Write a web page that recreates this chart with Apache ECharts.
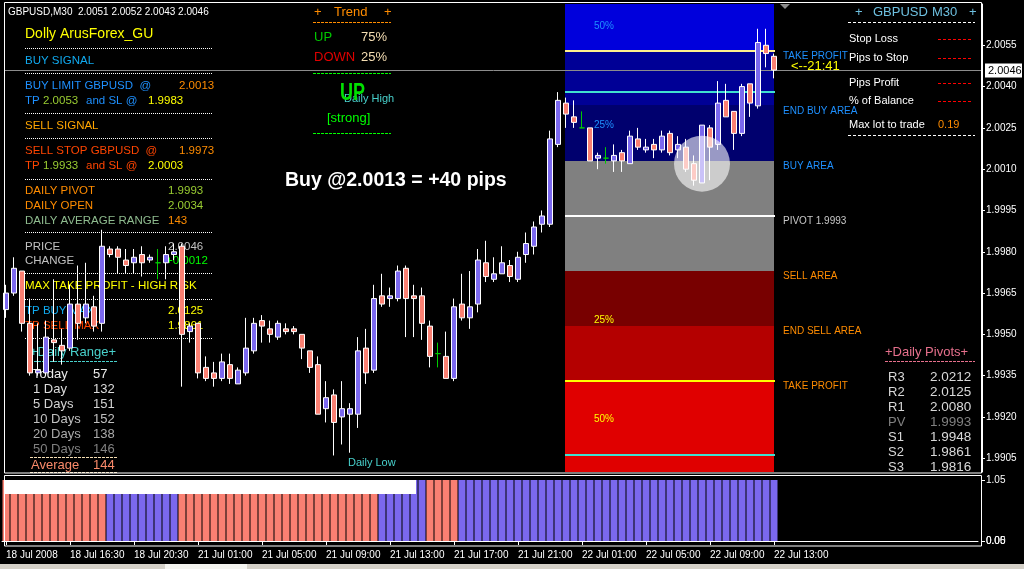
<!DOCTYPE html>
<html><head><meta charset="utf-8">
<script src="https://cdn.jsdelivr.net/npm/echarts@6/dist/echarts.min.js"></script>
<style>html,body{margin:0;padding:0;background:#000}#c{width:1024px;height:569px}</style>
</head><body><div id="c"></div><script>
// ---------------- DATA ----------------
const timeTicks = ['18 Jul 2008','18 Jul 16:30','18 Jul 20:30','21 Jul 01:00','21 Jul 05:00','21 Jul 09:00','21 Jul 13:00','21 Jul 17:00','21 Jul 21:00','22 Jul 01:00','22 Jul 05:00','22 Jul 09:00','22 Jul 13:00'];
const priceTicks = ['1.9905','1.9920','1.9935','1.9950','1.9965','1.9980','1.9995','2.0010','2.0025','2.0040','2.0055'];
const slotCount = 122;
const openP = [1.9959,1.9965,1.9973,1.9954,1.9936,1.9936,1.9948,1.9946,1.9945,1.9961,1.9956,1.9960,1.9954,1.9981,1.9981,1.9977,1.9976,1.9979,1.9977,1.9976,1.9976,1.9979,1.9982,1.9951,1.9954,1.9938,1.9936,1.9934,1.9939,1.9932,1.9936,1.9944,1.9955,1.9952,1.9949,1.9952,1.9952,1.9950,1.9944,1.9939,1.9923,1.9928,1.9920,1.9921,1.9921,1.9945,1.9937,1.9964,1.9963,1.9963,1.9974,1.9964,1.9964,1.9953,1.9943,1.9942,1.9934,1.9961,1.9956,1.9961,1.9976,1.9970,1.9972,1.9975,1.9970,1.9979,1.9982,1.9990,1.9990,2.0019,2.0034,2.0029,2.0025,2.0025,2.0014,2.0014,2.0013,2.0016,2.0012,2.0021,2.0017,2.0019,2.0017,2.0023,2.0017,2.0018,2.0012,2.0005,2.0025,2.0019,2.0035,2.0031,2.0023,2.0041,2.0033,2.0055,2.0051];
const closeP = [1.9965,1.9974,1.9954,1.9936,1.9937,1.9949,1.9947,1.9944,1.9961,1.9954,1.9961,1.9953,1.9982,1.9979,1.9978,1.9975,1.9978,1.9976,1.9978,1.9976,1.9979,1.9980,1.9950,1.9953,1.9936,1.9934,1.9934,1.9940,1.9934,1.9937,1.9945,1.9954,1.9953,1.9950,1.9954,1.9951,1.9951,1.9945,1.9938,1.9921,1.9927,1.9918,1.9923,1.9923,1.9944,1.9936,1.9963,1.9961,1.9964,1.9973,1.9963,1.9963,1.9954,1.9942,1.9943,1.9934,1.9960,1.9956,1.9960,1.9977,1.9971,1.9972,1.9976,1.9971,1.9978,1.9983,1.9989,1.9993,2.0021,2.0035,2.0030,2.0027,2.0025,2.0013,2.0015,2.0014,2.0015,2.0013,2.0022,2.0018,2.0018,2.0017,2.0022,2.0016,2.0019,2.0010,2.0006,2.0026,2.0018,2.0034,2.0029,2.0023,2.0040,2.0034,2.0056,2.0052,2.0046];
const lowP = [1.9956,1.9964,1.9951,1.9935,1.9935,1.9935,1.9940,1.9939,1.9944,1.9948,1.9954,1.9951,1.9951,1.9978,1.9972,1.9972,1.9972,1.9971,1.9976,1.9970,1.9970,1.9977,1.9931,1.9947,1.9934,1.9933,1.9931,1.9933,1.9932,1.9932,1.9935,1.9943,1.9947,1.9947,1.9948,1.9950,1.9950,1.9941,1.9936,1.9921,1.9918,1.9906,1.9910,1.9907,1.9916,1.9932,1.9936,1.9960,1.9960,1.9962,1.9949,1.9949,1.9948,1.9938,1.9938,1.9934,1.9933,1.9955,1.9952,1.9958,1.9969,1.9969,1.9972,1.9969,1.9969,1.9976,1.9979,1.9987,1.9989,2.0018,2.0025,2.0025,2.0025,2.0013,2.0010,2.0012,2.0009,2.0009,2.0012,2.0017,2.0016,2.0014,2.0016,2.0015,2.0014,2.0009,2.0004,2.0005,2.0006,2.0017,2.0029,2.0017,2.0022,2.0029,2.0032,2.0047,2.0043];
const highP = [1.9968,1.9978,1.9973,1.9963,1.9954,1.9955,1.9970,1.9952,1.9968,1.9975,1.9976,1.9964,1.9988,1.9982,1.9982,1.9981,1.9981,1.9982,1.9979,1.9981,1.9982,1.9983,1.9983,1.9954,1.9954,1.9942,1.9940,1.9943,1.9943,1.9938,1.9956,1.9956,1.9957,1.9955,1.9955,1.9954,1.9953,1.9950,1.9944,1.9942,1.9933,1.9930,1.9933,1.9925,1.9949,1.9952,1.9968,1.9972,1.9967,1.9975,1.9975,1.9968,1.9967,1.9955,1.9947,1.9951,1.9963,1.9972,1.9973,1.9981,1.9984,1.9978,1.9982,1.9977,1.9980,1.9987,1.9991,1.9995,2.0024,2.0038,2.0036,2.0035,2.0031,2.0025,2.0016,2.0018,2.0019,2.0017,2.0024,2.0025,2.0021,2.0021,2.0024,2.0024,2.0022,2.0021,2.0015,2.0026,2.0026,2.0042,2.0041,2.0031,2.0041,2.0041,2.0061,2.0061,2.0052];
const bidPrice = 2.0046;
const histValues = [
  1,1,1,1,1,1,1,1,1,1, 1,1,1,1,1,1,1,1,1,1, 1,1,1,1,1,1,1,1,1,1,
  1,1,1,1,1,1,1,1,1,1, 1,1,1,1,1,1,1,1,1,1, 1,1,1,1,1,1,1,1,1,1,
  1,1,1,1,1,1,1,1,1,1, 1,1,1,1,1,1,1,1,1,1, 1,1,1,1,1,1,1,1,1,1,
  1,1,1,1,1,1,1];
const histSign = [
  -1,-1,-1,-1,-1,-1,-1,-1,-1,-1,-1,-1,-1,
  1,1,1,1,1,1,1,1,1,
  -1,-1,-1,-1,-1,-1,-1,-1,-1,-1, -1,-1,-1,-1,-1,-1,-1,-1,-1,-1, -1,-1,-1,-1,-1,
  1,1,1,1,1,1,
  -1,-1,-1,-1,
  1,1,1,1,1,1,1,1,1,1, 1,1,1,1,1,1,1,1,1,1, 1,1,1,1,1,1,1,1,1,1, 1,1,1,1,1,1,1,1,1,1];
const whiteBand = {from: 0, to: 51, low: 0.77, high: 1};
// pivot zones
const zoneFrom = 70, zoneTo = 96;
const zoneEdges = [2.0070, 2.0053, 2.0033, 2.0013, 1.9973, 1.9953, 1.9933, 1.9900];
const zoneColors = ['#0000dc','#000096','#00006e','#808080','#780000','#b40000','#e00000'];
const levelPrices = [2.0053, 2.0038, 1.9993, 1.9933, 1.9906];
const levelColors = ['#fff08c','#40e0d0','#ffffff','#ffff00','#40e0d0'];
const areaLabels = ['TAKE PROFIT','END BUY AREA','BUY AREA','PIVOT 1.9993','SELL AREA','END SELL AREA','TAKE PROFIT'];
const areaPrices = [2.0053, 2.0033, 2.0013, 1.9993, 1.9973, 1.9953, 1.9933];
const areaColors = ['#1e90ff','#1e90ff','#1e90ff','#c8c8c8','#ff8c00','#ff8c00','#ff8c00'];
const pctLabels = ['50%','25%','25%','50%'];
const pctPrices = [2.0062, 2.0026, 1.9955, 1.9919];
const pctColors = ['#1e90ff','#1e90ff','#ffff00','#ffff00'];
const markCircle = {index: 87, price: 2.0012};
// panel texts
const rangeNames = ['Today','1 Day','5 Days','10 Days','20 Days','50 Days'];
const rangeValues = ['57','132','151','152','138','146'];
const pivotNames = ['R3','R2','R1','PV','S1','S2','S3'];
const pivotValues = ['2.0212','2.0125','2.0080','1.9993','1.9948','1.9861','1.9816'];

// ---------------- CHART ----------------
const FF = '"Liberation Sans", Arial, sans-serif';
const cats = Array.from({length: slotCount}, (_, i) => String(i));
const g = [];
function T(x, y, text, fill, size, opt) {
  opt = opt || {};
  const e = {type: 'text', x: x, y: y, z: opt.z || 1, silent: true,
    style: {text: text, fill: fill, font: (opt.bold ? 'bold ' : '') + size + 'px ' + FF, verticalAlign: 'middle'}};
  if (opt.scaleX) { e.scaleX = opt.scaleX; }
  g.push(e);
}
function L(x1, x2, y, stroke, dash, z) {
  g.push({type: 'line', z: z || 1, silent: true, shape: {x1: x1, y1: y + 0.5, x2: x2, y2: y + 0.5},
    style: {stroke: stroke, lineWidth: 1, lineDash: dash || null}});
}
// window frame
g.push({type:'rect', z: 20, silent:true, shape:{x:4.5,y:2.5,width:977,height:470.5}, style:{fill:'none', stroke:'#fff', lineWidth:1}});
g.push({type:'rect', z: 20, silent:true, shape:{x:4.5,y:475.5,width:977,height:70.5}, style:{fill:'none', stroke:'#fff', lineWidth:1}});
g.push({type:'rect', z: 20, silent:true, shape:{x:0,y:564,width:1024,height:5}, style:{fill:'#d4d0c8'}});
g.push({type:'rect', z: 21, silent:true, shape:{x:165,y:564,width:82,height:5}, style:{fill:'#f4f4f0'}});
g.push({type:'polygon', z: 20, silent:true, shape:{points:[[780,4],[790,4],[785,9]]}, style:{fill:'#8c8c8c'}});

// header
T(8, 12, 'GBPUSD,M30  2.0051 2.0052 2.0043 2.0046', '#ffffff', 10);
// left panel
const DOT = [1, 1];
T(25, 34, 'Dolly ArusForex_GU', '#ffff00', 14);
[48, 73, 113, 138, 179, 232, 273, 299, 338].forEach(y => L(25, 213, y, '#ffffff', DOT));
T(25, 61, 'BUY SIGNAL', '#10aaf0', 11.5);
T(25, 86, 'BUY LIMIT GBPUSD  @', '#1e90ff', 11.5); T(179, 86, '2.0013', '#ff8c00', 11.5);
T(25, 101, 'TP', '#1e90ff', 11.5); T(43, 101, '2.0053', '#9acd32', 11.5); T(86, 101, 'and SL @', '#1e90ff', 11.5); T(148, 101, '1.9983', '#ffff00', 11.5);
T(25, 126, 'SELL SIGNAL', '#ffa500', 11.5);
T(25, 151, 'SELL STOP GBPUSD  @', '#ff4500', 11.5); T(179, 151, '1.9973', '#ff8c00', 11.5);
T(25, 166, 'TP', '#ff4500', 11.5); T(43, 166, '1.9933', '#9acd32', 11.5); T(86, 166, 'and SL @', '#ff4500', 11.5); T(148, 166, '2.0003', '#ffff00', 11.5);
T(25, 191, 'DAILY PIVOT', '#ff8c00', 11.5); T(168, 191, '1.9993', '#9acd32', 11.5);
T(25, 206, 'DAILY OPEN', '#ff8c00', 11.5); T(168, 206, '2.0034', '#9acd32', 11.5);
T(25, 221, 'DAILY AVERAGE RANGE', '#8fbc8f', 11.5); T(168, 221, '143', '#ff8c00', 11.5);
T(25, 247, 'PRICE', '#c0c0c0', 11.5); T(168, 247, '2.0046', '#c0c0c0', 11.5);
T(25, 261, 'CHANGE', '#c0c0c0', 11.5); T(166, 261, '+0.0012', '#00ff00', 11.5);
T(25, 286, 'MAX TAKE PROFIT - HIGH RISK', '#ffff00', 11.5);
T(25, 311, 'TP BUY MAX', '#10aaf0', 11.5); T(168, 311, '2.0125', '#ffff00', 11.5);
T(25, 326, 'TP SELL MAX', '#ff4500', 11.5); T(168, 326, '1.9861', '#ffff00', 11.5);
T(30, 352, '+Daily Range+', '#48d1cc', 13);
L(30, 118, 361, '#48d1cc', [3, 1]);
const rangeColors = ['#ebebeb','#dcdcdc','#d3d3d3','#c0c0c0','#a9a9a9','#808080'];
rangeNames.forEach((n, k) => { T(33, 374 + 15 * k, n, rangeColors[k], 13); T(93, 374 + 15 * k, rangeValues[k], rangeColors[k], 13); });
L(30, 118, 457, '#f5deb3', [3, 1]);
T(31, 465, 'Average', '#fa8a6a', 13); T(93, 465, '144', '#fa8a6a', 13);
L(30, 118, 472, '#f5deb3', [3, 1]);
// trend box
T(314, 12, '+', '#ff8c00', 13); T(334, 12, 'Trend', '#ff8c00', 13); T(384, 12, '+', '#ff8c00', 13);
L(313, 391, 22, '#ff8c00', [3, 1]);
T(314, 37, 'UP', '#00c800', 13); T(361, 37, '75%', '#f5deb3', 13);
T(314, 57, 'DOWN', '#e00000', 13); T(361, 57, '25%', '#f5deb3', 13);
L(313, 391, 73, '#00ff00', [3, 1]);
T(344, 99, 'Daily High', '#48d1cc', 11);
T(340, 93, 'UP', '#00e000', 24, {bold: true, scaleX: 0.75, z: 2});
T(327, 118, '[strong]', '#00ff00', 13);
L(313, 391, 133, '#00ff00', [3, 1]);
T(285, 181, 'Buy @2.0013 = +40 pips', '#ffffff', 19.5, {bold: true});
T(348, 463, 'Daily Low', '#48d1cc', 11);
// right panel
T(855, 12, '+', '#6ec0e0', 13); T(873, 12, 'GBPUSD', '#6ec0e0', 13); T(932, 12, 'M30', '#6ec0e0', 13); T(969, 12, '+', '#6ec0e0', 13);
L(848, 975, 22, '#ffffff', [3, 2]);
T(849, 39, 'Stop Loss', '#ffffff', 11); L(938, 972, 39, '#ff0000', [3, 2]);
T(849, 58, 'Pips to Stop', '#ffffff', 11); L(938, 972, 58, '#ff0000', [3, 2]);
T(849, 83, 'Pips Profit', '#ffffff', 11); L(938, 972, 83, '#ff0000', [3, 2]);
T(849, 101, '% of Balance', '#ffffff', 11); L(938, 972, 101, '#ff0000', [3, 2]);
T(849, 125, 'Max lot to trade', '#ffffff', 11); T(938, 125, '0.19', '#ff8c00', 11);
L(848, 975, 135, '#ffffff', [3, 2]);
T(791, 66, '<--21:41', '#ffff00', 13, {z: 6});
// daily pivots
T(885, 352, '+Daily Pivots+', '#e6708c', 13);
L(885, 975, 361, '#e6708c', [3, 1]);
pivotNames.forEach((n, k) => {
  const c = n === 'PV' ? '#808080' : '#d8d8d8';
  T(888, 377 + 15 * k, n, c, 13); T(930, 377 + 15 * k, pivotValues[k], c, 13.5);
});

function renderZones(params, api) {
  const ch = [];
  const xa = api.coord([zoneFrom, zoneEdges[0]])[0] - 1;
  const xb = api.coord([zoneTo, zoneEdges[0]])[0];
  for (let k = 0; k < zoneColors.length; k++) {
    const y0 = api.coord([zoneFrom, zoneEdges[k]])[1];
    const y1 = api.coord([zoneFrom, zoneEdges[k + 1]])[1];
    ch.push({type: 'rect', shape: {x: xa, y: y0, width: xb - xa, height: y1 - y0}, style: {fill: zoneColors[k]}});
  }
  levelPrices.forEach((p, k) => {
    const y = Math.round(api.coord([zoneFrom, p])[1]);
    ch.push({type: 'line', shape: {x1: xa, y1: y, x2: xb + 1, y2: y}, style: {stroke: levelColors[k], lineWidth: 2}});
  });
  pctLabels.forEach((t, k) => {
    const y = api.coord([zoneFrom, pctPrices[k]])[1];
    ch.push({type: 'text', x: xa + 29, y: y, style: {text: t, fill: pctColors[k], font: '10px ' + FF, verticalAlign: 'middle'}});
  });
  areaLabels.forEach((t, k) => {
    const y = api.coord([zoneFrom, areaPrices[k]])[1];
    ch.push({type: 'text', x: xb + 9, y: y + 5, style: {text: t, fill: areaColors[k], font: '10px ' + FF, verticalAlign: 'middle'}});
  });
  return {type: 'group', children: ch};
}
function renderBid(params, api) {
  const y = Math.round(api.coord([0, bidPrice])[1]) + 0.5;
  return {type: 'group', children: [
    {type: 'line', shape: {x1: 5, y1: y, x2: 982, y2: y}, style: {stroke: '#8c8c8c', lineWidth: 1}},
    {type: 'rect', shape: {x: 985, y: y - 7, width: 37, height: 14}, style: {fill: '#ffffff'}},
    {type: 'text', x: 988, y: y, style: {text: bidPrice.toFixed(4), fill: '#000000', font: '11px ' + FF, verticalAlign: 'middle'}}
  ]};
}
function renderCircle(params, api) {
  const c = api.coord([markCircle.index, markCircle.price]);
  return {type: 'circle', shape: {cx: c[0], cy: c[1], r: 28}, style: {fill: 'rgba(255,255,255,0.6)'}};
}
function renderBand(params, api) {
  const a = api.coord([whiteBand.from, whiteBand.high]);
  const b = api.coord([whiteBand.to, whiteBand.low]);
  return {type: 'rect', shape: {x: a[0] - 1, y: a[1], width: b[0] - a[0] + 3, height: b[1] - a[1]}, style: {fill: '#ffffff'}};
}

const chart = echarts.init(document.getElementById('c'), null, {renderer: 'canvas'});
const tickIdx = (i) => i % 8 === 0 && i / 8 < timeTicks.length;
chart.setOption({
  backgroundColor: '#000000',
  animation: false,
  textStyle: {fontFamily: FF},
  grid: [
    {left: 2, width: 976, top: 4, height: 468},
    {left: 2, width: 976, top: 480, height: 61}
  ],
  xAxis: [
    {type: 'category', gridIndex: 0, data: cats, boundaryGap: true, axisLine: {show: false}, axisTick: {show: false}, axisLabel: {show: false}, splitLine: {show: false}},
    {type: 'category', gridIndex: 1, data: cats, boundaryGap: true, position: 'bottom', offset: 5,
      axisLine: {show: true, lineStyle: {color: '#ffffff'}},
      axisTick: {show: true, alignWithLabel: true, interval: (i) => tickIdx(i), length: 4, lineStyle: {color: '#ffffff'}},
      axisLabel: {show: true, interval: (i) => tickIdx(i), formatter: (v, i) => timeTicks[i / 8] || '', color: '#ffffff', fontSize: 10, align: 'left', margin: 4, fontFamily: FF},
      splitLine: {show: false}}
  ],
  yAxis: [
    {type: 'value', gridIndex: 0, min: 1.99, max: 2.007, position: 'right', offset: 4,
      axisLine: {show: true, lineStyle: {color: '#ffffff'}},
      axisTick: {show: true, length: 3, customValues: priceTicks.map(Number), lineStyle: {color: '#ffffff'}},
      axisLabel: {show: true, customValues: priceTicks.map(Number), formatter: (v) => v.toFixed(4), color: '#ffffff', fontSize: 10, margin: 4, fontFamily: FF},
      splitLine: {show: false}},
    {type: 'value', gridIndex: 1, min: 0, max: 1, position: 'right', offset: 4,
      axisLine: {show: false}, axisTick: {show: true, length: 3, customValues: [0, 1], lineStyle: {color: '#ffffff'}},
      axisLabel: {show: true, customValues: [0, 1], formatter: (v) => v === 1 ? '1.05' : '0.05', color: '#ffffff', fontSize: 10, margin: 4, fontFamily: FF},
      splitLine: {show: false}},
    {type: 'value', gridIndex: 1, min: 0, max: 1, position: 'right', offset: 4,
      axisLine: {show: false}, axisTick: {show: false},
      axisLabel: {show: true, customValues: [0], formatter: () => '0.00', color: '#ffffff', fontSize: 10, margin: 4, fontFamily: FF},
      splitLine: {show: false}}
  ],
  graphic: {elements: g},
  series: [
    {type: 'custom', xAxisIndex: 0, yAxisIndex: 0, z: 1, silent: true, clip: false, data: [[0, 2.0]], renderItem: renderZones},
    {type: 'custom', xAxisIndex: 0, yAxisIndex: 0, z: 2, silent: true, clip: false, data: [[0, 2.0]], renderItem: renderBid},
    {type: 'candlestick', xAxisIndex: 0, yAxisIndex: 0, z: 3, barWidth: 5, silent: true,
      data: openP.map((o, i) => [o, closeP[i], lowP[i], highP[i]]),
      itemStyle: {color: '#7b68ee', color0: '#fa8072', borderColor: '#ffffff', borderColor0: '#ffffff', borderColorDoji: '#00cc00', borderWidth: 1}},
    {type: 'custom', xAxisIndex: 0, yAxisIndex: 0, z: 5, silent: true, clip: false, data: [[0, 2.0]], renderItem: renderCircle},
    {type: 'bar', xAxisIndex: 1, yAxisIndex: 1, barWidth: 7, silent: true, z: 2,
      data: histValues.map((v, i) => ({value: v, itemStyle: {color: histSign[i] > 0 ? '#7b68ee' : '#fa8072'}}))},
    {type: 'custom', xAxisIndex: 1, yAxisIndex: 1, z: 4, silent: true, clip: false, data: [[0, 1]], renderItem: renderBand}
  ]
});
</script></body></html>
